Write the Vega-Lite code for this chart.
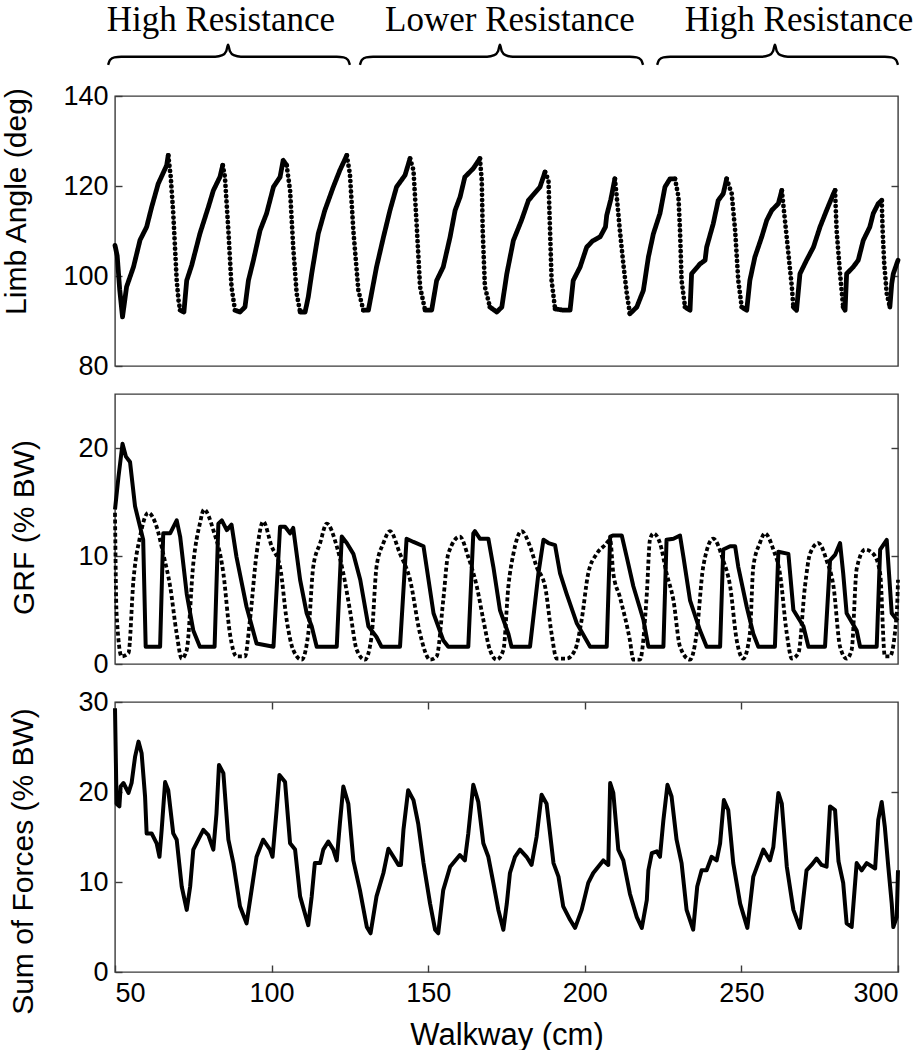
{
"$schema": "https://vega.github.io/schema/vega-lite/v6.json",
"background": "white",
"padding": {"left": 0, "top": 0, "right": 0, "bottom": 0},
"config": {
  "view": {"stroke": "#3a3a3a", "strokeWidth": 1.4},
  "font": "Liberation Sans",
  "axis": {"labelFont": "Liberation Sans", "titleFont": "Liberation Sans", "labelFontSize": 27, "titleFontSize": 30, "titleFontWeight": "normal", "labelColor": "black", "titleColor": "black", "tickColor": "#3a3a3a", "tickSize": -7, "tickWidth": 1.4, "domain": false, "grid": false, "labelPadding": 14}
},
"datasets": {
"braces": [
{"x":47.8,"level":0.19,"brace":1},{"x":48.4,"level":0.25,"brace":1},{"x":49.8,"level":0.283,"brace":1},{"x":52,"level":0.29,"brace":1},{"x":82,"level":0.29,"brace":1},{"x":84.3,"level":0.31,"brace":1},{"x":85.5,"level":0.36,"brace":1},{"x":86.1,"level":0.44,"brace":1},{"x":86.7,"level":0.36,"brace":1},{"x":87.9,"level":0.31,"brace":1},{"x":90.2,"level":0.29,"brace":1},{"x":120.8,"level":0.29,"brace":1},{"x":123,"level":0.283,"brace":1},{"x":124.4,"level":0.25,"brace":1},{"x":125,"level":0.19,"brace":1},
{"x":128.2,"level":0.19,"brace":2},{"x":128.8,"level":0.25,"brace":2},{"x":130.2,"level":0.283,"brace":2},{"x":132.4,"level":0.29,"brace":2},{"x":168.8,"level":0.29,"brace":2},{"x":171.1,"level":0.31,"brace":2},{"x":172.3,"level":0.36,"brace":2},{"x":172.9,"level":0.44,"brace":2},{"x":173.5,"level":0.36,"brace":2},{"x":174.7,"level":0.31,"brace":2},{"x":177,"level":0.29,"brace":2},{"x":214.4,"level":0.29,"brace":2},{"x":216.6,"level":0.283,"brace":2},{"x":218,"level":0.25,"brace":2},{"x":218.6,"level":0.19,"brace":2},
{"x":223.1,"level":0.19,"brace":3},{"x":223.7,"level":0.25,"brace":3},{"x":225.1,"level":0.283,"brace":3},{"x":227.3,"level":0.29,"brace":3},{"x":256.6,"level":0.29,"brace":3},{"x":258.9,"level":0.31,"brace":3},{"x":260.1,"level":0.36,"brace":3},{"x":260.7,"level":0.44,"brace":3},{"x":261.3,"level":0.36,"brace":3},{"x":262.5,"level":0.31,"brace":3},{"x":264.8,"level":0.29,"brace":3},{"x":295.8,"level":0.29,"brace":3},{"x":298,"level":0.283,"brace":3},{"x":299.4,"level":0.25,"brace":3},{"x":300,"level":0.19,"brace":3}
],
"labels": [
{"x":83.8,"level":0.615,"label":"High Resistance"},
{"x":176.1,"level":0.615,"label":"Lower Resistance"},
{"x":268.4,"level":0.615,"label":"High Resistance"}
],
"angle": [
{"x":50,"angle":106.8,"step":1,"phase":"stance"},{"x":50.7,"angle":104.5,"step":1,"phase":"stance"},{"x":51.5,"angle":97,"step":1,"phase":"stance"},{"x":52.4,"angle":90.9,"step":1,"phase":"stance"},{"x":53.7,"angle":97.6,"step":1,"phase":"stance"},{"x":55.9,"angle":102,"step":1,"phase":"stance"},{"x":58,"angle":108,"step":1,"phase":"stance"},{"x":60.1,"angle":110.9,"step":1,"phase":"stance"},{"x":61.7,"angle":115.3,"step":1,"phase":"stance"},{"x":63.8,"angle":120.5,"step":1,"phase":"stance"},{"x":66.5,"angle":124.6,"step":1,"phase":"stance"},{"x":67,"angle":126.8,"step":1,"phase":"stance"},
{"x":67,"angle":126.8,"step":2,"phase":"swing"},{"x":67.8,"angle":122,"step":2,"phase":"swing"},{"x":68.6,"angle":113.9,"step":2,"phase":"swing"},{"x":69.7,"angle":99,"step":2,"phase":"swing"},{"x":70.3,"angle":94.5,"step":2,"phase":"swing"},{"x":70.8,"angle":92.4,"step":2,"phase":"swing"},
{"x":70.8,"angle":92.4,"step":3,"phase":"stance"},{"x":72,"angle":92,"step":3,"phase":"stance"},{"x":72.9,"angle":99,"step":3,"phase":"stance"},{"x":74.5,"angle":102.4,"step":3,"phase":"stance"},{"x":77.1,"angle":109.4,"step":3,"phase":"stance"},{"x":79.8,"angle":115.3,"step":3,"phase":"stance"},{"x":81.4,"angle":119,"step":3,"phase":"stance"},{"x":83.5,"angle":122,"step":3,"phase":"stance"},{"x":84.4,"angle":124.6,"step":3,"phase":"stance"},
{"x":84.4,"angle":124.6,"step":4,"phase":"swing"},{"x":85.1,"angle":122,"step":4,"phase":"swing"},{"x":86.2,"angle":110.1,"step":4,"phase":"swing"},{"x":87.2,"angle":97.6,"step":4,"phase":"swing"},{"x":88.3,"angle":92.4,"step":4,"phase":"swing"},
{"x":88.3,"angle":92.4,"step":5,"phase":"stance"},{"x":89.9,"angle":92,"step":5,"phase":"stance"},{"x":91.5,"angle":93.1,"step":5,"phase":"stance"},{"x":92.6,"angle":99,"step":5,"phase":"stance"},{"x":94.2,"angle":103.5,"step":5,"phase":"stance"},{"x":96.3,"angle":110.1,"step":5,"phase":"stance"},{"x":98.4,"angle":113.9,"step":5,"phase":"stance"},{"x":100.6,"angle":119.8,"step":5,"phase":"stance"},{"x":102.7,"angle":122,"step":5,"phase":"stance"},{"x":103.7,"angle":125.7,"step":5,"phase":"stance"},{"x":104.8,"angle":124.6,"step":5,"phase":"stance"},
{"x":104.8,"angle":124.6,"step":6,"phase":"swing"},{"x":105.9,"angle":119,"step":6,"phase":"swing"},{"x":106.9,"angle":106.4,"step":6,"phase":"swing"},{"x":108,"angle":96.1,"step":6,"phase":"swing"},{"x":109.1,"angle":92,"step":6,"phase":"swing"},
{"x":109.1,"angle":92,"step":7,"phase":"stance"},{"x":110.7,"angle":92,"step":7,"phase":"stance"},{"x":111.7,"angle":95.3,"step":7,"phase":"stance"},{"x":112.8,"angle":100.5,"step":7,"phase":"stance"},{"x":114.9,"angle":109.4,"step":7,"phase":"stance"},{"x":117,"angle":114.6,"step":7,"phase":"stance"},{"x":119.7,"angle":119.8,"step":7,"phase":"stance"},{"x":121.8,"angle":123.5,"step":7,"phase":"stance"},{"x":124,"angle":126.8,"step":7,"phase":"stance"},
{"x":124,"angle":126.8,"step":8,"phase":"swing"},{"x":125,"angle":122.7,"step":8,"phase":"swing"},{"x":126.1,"angle":110.1,"step":8,"phase":"swing"},{"x":127.7,"angle":96.8,"step":8,"phase":"swing"},{"x":129.3,"angle":92.4,"step":8,"phase":"swing"},
{"x":129.3,"angle":92.4,"step":9,"phase":"stance"},{"x":130.9,"angle":92.4,"step":9,"phase":"stance"},{"x":131.9,"angle":96.1,"step":9,"phase":"stance"},{"x":133.5,"angle":102,"step":9,"phase":"stance"},{"x":135.7,"angle":108.6,"step":9,"phase":"stance"},{"x":137.8,"angle":114.6,"step":9,"phase":"stance"},{"x":139.9,"angle":119.8,"step":9,"phase":"stance"},{"x":142.6,"angle":122.4,"step":9,"phase":"stance"},{"x":144.2,"angle":126.1,"step":9,"phase":"stance"},
{"x":144.2,"angle":126.1,"step":10,"phase":"swing"},{"x":145.3,"angle":123.5,"step":10,"phase":"swing"},{"x":146.3,"angle":111.6,"step":10,"phase":"swing"},{"x":147.4,"angle":97.6,"step":10,"phase":"swing"},{"x":149,"angle":92.4,"step":10,"phase":"swing"},
{"x":149,"angle":92.4,"step":11,"phase":"stance"},{"x":151.1,"angle":92.4,"step":11,"phase":"stance"},{"x":152.7,"angle":99,"step":11,"phase":"stance"},{"x":154.8,"angle":102,"step":11,"phase":"stance"},{"x":157,"angle":108.7,"step":11,"phase":"stance"},{"x":158.6,"angle":114.6,"step":11,"phase":"stance"},{"x":160.2,"angle":117.6,"step":11,"phase":"stance"},{"x":161.7,"angle":122,"step":11,"phase":"stance"},{"x":164.4,"angle":123.9,"step":11,"phase":"stance"},{"x":166.5,"angle":126.1,"step":11,"phase":"stance"},
{"x":166.5,"angle":126.1,"step":12,"phase":"swing"},{"x":167.1,"angle":121.3,"step":12,"phase":"swing"},{"x":167.4,"angle":110.1,"step":12,"phase":"swing"},{"x":168.1,"angle":97.6,"step":12,"phase":"swing"},{"x":169.7,"angle":93.1,"step":12,"phase":"swing"},
{"x":169.7,"angle":93.1,"step":13,"phase":"stance"},{"x":171.9,"angle":92,"step":13,"phase":"stance"},{"x":173.5,"angle":93.1,"step":13,"phase":"stance"},{"x":175.1,"angle":100.5,"step":13,"phase":"stance"},{"x":177.2,"angle":107.9,"step":13,"phase":"stance"},{"x":179.8,"angle":112.4,"step":13,"phase":"stance"},{"x":182,"angle":116.8,"step":13,"phase":"stance"},{"x":185.7,"angle":119.8,"step":13,"phase":"stance"},{"x":187.3,"angle":123.1,"step":13,"phase":"stance"},
{"x":187.3,"angle":123.1,"step":14,"phase":"swing"},{"x":188.4,"angle":121.3,"step":14,"phase":"swing"},{"x":188.9,"angle":110.1,"step":14,"phase":"swing"},{"x":189.4,"angle":99,"step":14,"phase":"swing"},{"x":190.5,"angle":92.7,"step":14,"phase":"swing"},
{"x":190.5,"angle":92.7,"step":15,"phase":"stance"},{"x":193.1,"angle":92.4,"step":15,"phase":"stance"},{"x":195.3,"angle":92.4,"step":15,"phase":"stance"},{"x":196.3,"angle":99,"step":15,"phase":"stance"},{"x":198.5,"angle":102,"step":15,"phase":"stance"},{"x":200.6,"angle":106.4,"step":15,"phase":"stance"},{"x":202.5,"angle":107.8,"step":15,"phase":"stance"},{"x":204.9,"angle":108.7,"step":15,"phase":"stance"},{"x":206.6,"angle":110.9,"step":15,"phase":"stance"},{"x":207,"angle":113.5,"step":15,"phase":"stance"},{"x":208.3,"angle":117,"step":15,"phase":"stance"},{"x":209.6,"angle":121.6,"step":15,"phase":"stance"},
{"x":209.6,"angle":121.6,"step":16,"phase":"swing"},{"x":210.2,"angle":117.6,"step":16,"phase":"swing"},{"x":211.2,"angle":110.1,"step":16,"phase":"swing"},{"x":212.3,"angle":102.7,"step":16,"phase":"swing"},{"x":213.4,"angle":96.1,"step":16,"phase":"swing"},{"x":214.4,"angle":91.6,"step":16,"phase":"swing"},
{"x":214.4,"angle":91.6,"step":17,"phase":"stance"},{"x":216.6,"angle":93.1,"step":17,"phase":"stance"},{"x":218.7,"angle":96.8,"step":17,"phase":"stance"},{"x":220.3,"angle":104.2,"step":17,"phase":"stance"},{"x":221.9,"angle":109.4,"step":17,"phase":"stance"},{"x":224,"angle":113.9,"step":17,"phase":"stance"},{"x":225.6,"angle":119.8,"step":17,"phase":"stance"},{"x":227.2,"angle":121.6,"step":17,"phase":"stance"},{"x":228.8,"angle":121.6,"step":17,"phase":"stance"},
{"x":228.8,"angle":121.6,"step":18,"phase":"swing"},{"x":229.9,"angle":117.6,"step":18,"phase":"swing"},{"x":230.4,"angle":110.1,"step":18,"phase":"swing"},{"x":230.9,"angle":99,"step":18,"phase":"swing"},{"x":232,"angle":93.1,"step":18,"phase":"swing"},
{"x":232,"angle":93.1,"step":19,"phase":"stance"},{"x":233.6,"angle":92.4,"step":19,"phase":"stance"},{"x":234.1,"angle":100.5,"step":19,"phase":"stance"},{"x":236.8,"angle":102.7,"step":19,"phase":"stance"},{"x":238.4,"angle":103.5,"step":19,"phase":"stance"},{"x":238.9,"angle":106.4,"step":19,"phase":"stance"},{"x":241,"angle":111.6,"step":19,"phase":"stance"},{"x":242.6,"angle":116.8,"step":19,"phase":"stance"},{"x":244.2,"angle":118.3,"step":19,"phase":"stance"},{"x":245.3,"angle":121.6,"step":19,"phase":"stance"},
{"x":245.3,"angle":121.6,"step":20,"phase":"swing"},{"x":246.9,"angle":118.3,"step":20,"phase":"swing"},{"x":248,"angle":110.1,"step":20,"phase":"swing"},{"x":249,"angle":99,"step":20,"phase":"swing"},{"x":250.1,"angle":93.1,"step":20,"phase":"swing"},
{"x":250.1,"angle":93.1,"step":21,"phase":"stance"},{"x":251.7,"angle":92.4,"step":21,"phase":"stance"},{"x":252.7,"angle":99,"step":21,"phase":"stance"},{"x":254.3,"angle":104.2,"step":21,"phase":"stance"},{"x":256.5,"angle":108.7,"step":21,"phase":"stance"},{"x":258.1,"angle":112.4,"step":21,"phase":"stance"},{"x":259.7,"angle":114.6,"step":21,"phase":"stance"},{"x":261.8,"angle":116.1,"step":21,"phase":"stance"},{"x":262.9,"angle":119,"step":21,"phase":"stance"},
{"x":262.9,"angle":119,"step":22,"phase":"swing"},{"x":263.9,"angle":112.4,"step":22,"phase":"swing"},{"x":265,"angle":105,"step":22,"phase":"swing"},{"x":266.1,"angle":97.6,"step":22,"phase":"swing"},{"x":266.6,"angle":93.1,"step":22,"phase":"swing"},
{"x":266.6,"angle":93.1,"step":23,"phase":"stance"},{"x":267.6,"angle":92.4,"step":23,"phase":"stance"},{"x":268.7,"angle":100.5,"step":23,"phase":"stance"},{"x":270.8,"angle":103.5,"step":23,"phase":"stance"},{"x":273,"angle":106.4,"step":23,"phase":"stance"},{"x":275.1,"angle":110.9,"step":23,"phase":"stance"},{"x":277.2,"angle":114.6,"step":23,"phase":"stance"},{"x":279.4,"angle":118.3,"step":23,"phase":"stance"},{"x":279.9,"angle":119,"step":23,"phase":"stance"},
{"x":279.9,"angle":119,"step":24,"phase":"swing"},{"x":280.4,"angle":110.1,"step":24,"phase":"swing"},{"x":281.5,"angle":100.5,"step":24,"phase":"swing"},{"x":282.5,"angle":93.1,"step":24,"phase":"swing"},
{"x":282.5,"angle":93.1,"step":25,"phase":"stance"},{"x":283.1,"angle":92.4,"step":25,"phase":"stance"},{"x":283.6,"angle":100.5,"step":25,"phase":"stance"},{"x":285.7,"angle":102,"step":25,"phase":"stance"},{"x":287.3,"angle":103.5,"step":25,"phase":"stance"},{"x":288.9,"angle":107.9,"step":25,"phase":"stance"},{"x":291,"angle":110.9,"step":25,"phase":"stance"},{"x":292.1,"angle":113.9,"step":25,"phase":"stance"},{"x":293.7,"angle":116.1,"step":25,"phase":"stance"},{"x":294.8,"angle":116.8,"step":25,"phase":"stance"},
{"x":294.8,"angle":116.8,"step":26,"phase":"swing"},{"x":295.1,"angle":110,"step":26,"phase":"swing"},{"x":295.6,"angle":102.7,"step":26,"phase":"swing"},{"x":296.4,"angle":96.1,"step":26,"phase":"swing"},{"x":297.4,"angle":93.1,"step":26,"phase":"swing"},
{"x":297.4,"angle":93.1,"step":27,"phase":"stance"},{"x":298,"angle":98.3,"step":27,"phase":"stance"},{"x":298.5,"angle":100.5,"step":27,"phase":"stance"},{"x":300,"angle":103.5,"step":27,"phase":"stance"}
],
"grf": [
{"x":50,"grf":14.3,"limb":"Limb 1"},{"x":51.1,"grf":17.3,"limb":"Limb 1"},{"x":52.4,"grf":20.4,"limb":"Limb 1"},{"x":53.5,"grf":19.2,"limb":"Limb 1"},{"x":54.8,"grf":18.7,"limb":"Limb 1"},{"x":56.4,"grf":14.6,"limb":"Limb 1"},{"x":58,"grf":12.7,"limb":"Limb 1"},{"x":59,"grf":11.5,"limb":"Limb 1"},{"x":59.8,"grf":1.6,"limb":"Limb 1"},{"x":64.4,"grf":1.6,"limb":"Limb 1"},{"x":65.4,"grf":12.1,"limb":"Limb 1"},{"x":67.6,"grf":12.1,"limb":"Limb 1"},{"x":69.7,"grf":13.3,"limb":"Limb 1"},{"x":70.8,"grf":11.8,"limb":"Limb 1"},{"x":72.9,"grf":6.5,"limb":"Limb 1"},{"x":75,"grf":3.1,"limb":"Limb 1"},{"x":77.1,"grf":1.6,"limb":"Limb 1"},{"x":81.8,"grf":1.6,"limb":"Limb 1"},{"x":83,"grf":13,"limb":"Limb 1"},{"x":84.1,"grf":13.3,"limb":"Limb 1"},{"x":85.7,"grf":12.4,"limb":"Limb 1"},{"x":87.2,"grf":12.9,"limb":"Limb 1"},{"x":88.8,"grf":9.9,"limb":"Limb 1"},{"x":92,"grf":5.3,"limb":"Limb 1"},{"x":95.2,"grf":1.9,"limb":"Limb 1"},{"x":100.6,"grf":1.6,"limb":"Limb 1"},{"x":102.7,"grf":12.7,"limb":"Limb 1"},{"x":104.3,"grf":12.7,"limb":"Limb 1"},{"x":105.9,"grf":12.1,"limb":"Limb 1"},{"x":106.9,"grf":12.6,"limb":"Limb 1"},{"x":109.1,"grf":7.8,"limb":"Limb 1"},{"x":111.2,"grf":4.7,"limb":"Limb 1"},{"x":112.8,"grf":3.5,"limb":"Limb 1"},{"x":114.4,"grf":1.6,"limb":"Limb 1"},{"x":120.8,"grf":1.6,"limb":"Limb 1"},{"x":122.4,"grf":11.8,"limb":"Limb 1"},{"x":124,"grf":11.2,"limb":"Limb 1"},{"x":126.1,"grf":10.2,"limb":"Limb 1"},{"x":128.3,"grf":7.8,"limb":"Limb 1"},{"x":130.9,"grf":3.5,"limb":"Limb 1"},{"x":133.5,"grf":2.5,"limb":"Limb 1"},{"x":135.1,"grf":1.6,"limb":"Limb 1"},{"x":141,"grf":1.6,"limb":"Limb 1"},{"x":143.1,"grf":11.6,"limb":"Limb 1"},{"x":145.3,"grf":11.3,"limb":"Limb 1"},{"x":148.5,"grf":10.9,"limb":"Limb 1"},{"x":151.7,"grf":4.7,"limb":"Limb 1"},{"x":154.8,"grf":2.2,"limb":"Limb 1"},{"x":156.4,"grf":1.6,"limb":"Limb 1"},{"x":162.8,"grf":1.6,"limb":"Limb 1"},{"x":164.4,"grf":12.1,"limb":"Limb 1"},{"x":164.9,"grf":12.3,"limb":"Limb 1"},{"x":166.5,"grf":11.6,"limb":"Limb 1"},{"x":169.2,"grf":11.6,"limb":"Limb 1"},{"x":170.8,"grf":9,"limb":"Limb 1"},{"x":172.9,"grf":5,"limb":"Limb 1"},{"x":175.6,"grf":2.8,"limb":"Limb 1"},{"x":176.6,"grf":1.6,"limb":"Limb 1"},{"x":182.5,"grf":1.6,"limb":"Limb 1"},{"x":185.2,"grf":8.4,"limb":"Limb 1"},{"x":186.8,"grf":11.5,"limb":"Limb 1"},{"x":188.4,"grf":11.2,"limb":"Limb 1"},{"x":190.5,"grf":11,"limb":"Limb 1"},{"x":192.1,"grf":8.4,"limb":"Limb 1"},{"x":194.2,"grf":6.5,"limb":"Limb 1"},{"x":197.4,"grf":3.8,"limb":"Limb 1"},{"x":201.7,"grf":1.6,"limb":"Limb 1"},{"x":207,"grf":1.6,"limb":"Limb 1"},{"x":208.1,"grf":11.8,"limb":"Limb 1"},{"x":209.1,"grf":11.9,"limb":"Limb 1"},{"x":211.8,"grf":11.9,"limb":"Limb 1"},{"x":213.4,"grf":9.9,"limb":"Limb 1"},{"x":215.5,"grf":7.2,"limb":"Limb 1"},{"x":218.7,"grf":4.1,"limb":"Limb 1"},{"x":220.3,"grf":1.6,"limb":"Limb 1"},{"x":225.1,"grf":1.6,"limb":"Limb 1"},{"x":226.1,"grf":11.5,"limb":"Limb 1"},{"x":228.3,"grf":11.6,"limb":"Limb 1"},{"x":230.4,"grf":11.9,"limb":"Limb 1"},{"x":231.5,"grf":9.9,"limb":"Limb 1"},{"x":233.6,"grf":5.9,"limb":"Limb 1"},{"x":236.8,"grf":3.1,"limb":"Limb 1"},{"x":238.9,"grf":1.6,"limb":"Limb 1"},{"x":243.2,"grf":1.6,"limb":"Limb 1"},{"x":244.2,"grf":10.6,"limb":"Limb 1"},{"x":246.4,"grf":10.9,"limb":"Limb 1"},{"x":248,"grf":10.9,"limb":"Limb 1"},{"x":249,"grf":9,"limb":"Limb 1"},{"x":251.7,"grf":5.3,"limb":"Limb 1"},{"x":253.8,"grf":2.8,"limb":"Limb 1"},{"x":255.4,"grf":1.6,"limb":"Limb 1"},{"x":260.7,"grf":1.6,"limb":"Limb 1"},{"x":261.8,"grf":10.4,"limb":"Limb 1"},{"x":265,"grf":10.2,"limb":"Limb 1"},{"x":266.6,"grf":5,"limb":"Limb 1"},{"x":269.8,"grf":3.5,"limb":"Limb 1"},{"x":271.4,"grf":1.6,"limb":"Limb 1"},{"x":276.7,"grf":1.6,"limb":"Limb 1"},{"x":278.3,"grf":9.6,"limb":"Limb 1"},{"x":279.9,"grf":10.1,"limb":"Limb 1"},{"x":281.5,"grf":11.2,"limb":"Limb 1"},{"x":282.5,"grf":8.4,"limb":"Limb 1"},{"x":283.6,"grf":4.7,"limb":"Limb 1"},{"x":286.8,"grf":3.1,"limb":"Limb 1"},{"x":287.9,"grf":1.6,"limb":"Limb 1"},{"x":293.2,"grf":1.6,"limb":"Limb 1"},{"x":294.3,"grf":10.6,"limb":"Limb 1"},{"x":296.4,"grf":11.5,"limb":"Limb 1"},{"x":298,"grf":4.7,"limb":"Limb 1"},{"x":299.6,"grf":4.1,"limb":"Limb 1"},{"x":300,"grf":4,"limb":"Limb 1"},
{"x":50,"grf":14,"limb":"Limb 2"},{"x":50.5,"grf":4.7,"limb":"Limb 2"},{"x":52.1,"grf":0.7,"limb":"Limb 2"},{"x":54.3,"grf":1,"limb":"Limb 2"},{"x":55.9,"grf":7.8,"limb":"Limb 2"},{"x":58,"grf":11.8,"limb":"Limb 2"},{"x":60.6,"grf":14,"limb":"Limb 2"},{"x":63.3,"grf":12.7,"limb":"Limb 2"},{"x":65.4,"grf":10.2,"limb":"Limb 2"},{"x":67.6,"grf":7.2,"limb":"Limb 2"},{"x":69.7,"grf":2.8,"limb":"Limb 2"},{"x":71.3,"grf":0.5,"limb":"Limb 2"},{"x":72.9,"grf":1.3,"limb":"Limb 2"},{"x":75,"grf":9.3,"limb":"Limb 2"},{"x":77.1,"grf":13,"limb":"Limb 2"},{"x":78.4,"grf":14.3,"limb":"Limb 2"},{"x":81.4,"grf":12.4,"limb":"Limb 2"},{"x":84.6,"grf":8.4,"limb":"Limb 2"},{"x":86.7,"grf":2.8,"limb":"Limb 2"},{"x":88.8,"grf":0.7,"limb":"Limb 2"},{"x":91.5,"grf":0.7,"limb":"Limb 2"},{"x":93.1,"grf":4.1,"limb":"Limb 2"},{"x":95.2,"grf":10.2,"limb":"Limb 2"},{"x":97.3,"grf":13.2,"limb":"Limb 2"},{"x":100,"grf":10.9,"limb":"Limb 2"},{"x":102.7,"grf":9,"limb":"Limb 2"},{"x":104.8,"grf":4.1,"limb":"Limb 2"},{"x":106.9,"grf":1.3,"limb":"Limb 2"},{"x":109.6,"grf":0.4,"limb":"Limb 2"},{"x":111.7,"grf":2.8,"limb":"Limb 2"},{"x":113.3,"grf":9,"limb":"Limb 2"},{"x":115.5,"grf":11.2,"limb":"Limb 2"},{"x":117.6,"grf":13,"limb":"Limb 2"},{"x":120.8,"grf":10.9,"limb":"Limb 2"},{"x":122.9,"grf":8.4,"limb":"Limb 2"},{"x":125,"grf":5,"limb":"Limb 2"},{"x":127.2,"grf":1.3,"limb":"Limb 2"},{"x":129.8,"grf":0.4,"limb":"Limb 2"},{"x":131.9,"grf":2.5,"limb":"Limb 2"},{"x":133.5,"grf":9,"limb":"Limb 2"},{"x":135.7,"grf":11.2,"limb":"Limb 2"},{"x":137.8,"grf":12.3,"limb":"Limb 2"},{"x":141,"grf":10.2,"limb":"Limb 2"},{"x":144.2,"grf":7.8,"limb":"Limb 2"},{"x":147.4,"grf":2.8,"limb":"Limb 2"},{"x":150.6,"grf":0.4,"limb":"Limb 2"},{"x":152.7,"grf":0.7,"limb":"Limb 2"},{"x":154.8,"grf":5.9,"limb":"Limb 2"},{"x":156.4,"grf":10.2,"limb":"Limb 2"},{"x":160.1,"grf":11.8,"limb":"Limb 2"},{"x":162.8,"grf":9.9,"limb":"Limb 2"},{"x":165.5,"grf":7.2,"limb":"Limb 2"},{"x":167.6,"grf":4.1,"limb":"Limb 2"},{"x":169.7,"grf":1.3,"limb":"Limb 2"},{"x":171.9,"grf":0.4,"limb":"Limb 2"},{"x":174,"grf":1.3,"limb":"Limb 2"},{"x":175.6,"grf":7.2,"limb":"Limb 2"},{"x":177.2,"grf":10.2,"limb":"Limb 2"},{"x":179.8,"grf":12.3,"limb":"Limb 2"},{"x":182.5,"grf":10.9,"limb":"Limb 2"},{"x":184.6,"grf":9,"limb":"Limb 2"},{"x":187.3,"grf":7.2,"limb":"Limb 2"},{"x":189.4,"grf":2.8,"limb":"Limb 2"},{"x":191,"grf":0.5,"limb":"Limb 2"},{"x":194.2,"grf":0.5,"limb":"Limb 2"},{"x":196.9,"grf":1.3,"limb":"Limb 2"},{"x":199,"grf":4.1,"limb":"Limb 2"},{"x":201.1,"grf":8.4,"limb":"Limb 2"},{"x":203.8,"grf":10.2,"limb":"Limb 2"},{"x":206.4,"grf":11,"limb":"Limb 2"},{"x":208.1,"grf":11.5,"limb":"Limb 2"},{"x":209.1,"grf":8.4,"limb":"Limb 2"},{"x":211.2,"grf":6.2,"limb":"Limb 2"},{"x":214.4,"grf":2.2,"limb":"Limb 2"},{"x":215.5,"grf":0.4,"limb":"Limb 2"},{"x":217.6,"grf":0.4,"limb":"Limb 2"},{"x":219.8,"grf":6.5,"limb":"Limb 2"},{"x":220.8,"grf":11.5,"limb":"Limb 2"},{"x":221.9,"grf":12.1,"limb":"Limb 2"},{"x":224,"grf":11.2,"limb":"Limb 2"},{"x":226.1,"grf":8.4,"limb":"Limb 2"},{"x":228.3,"grf":5.9,"limb":"Limb 2"},{"x":230.4,"grf":1.6,"limb":"Limb 2"},{"x":233.6,"grf":0.4,"limb":"Limb 2"},{"x":235.7,"grf":2.8,"limb":"Limb 2"},{"x":237.8,"grf":9,"limb":"Limb 2"},{"x":241,"grf":11.6,"limb":"Limb 2"},{"x":244.2,"grf":9.6,"limb":"Limb 2"},{"x":246.4,"grf":7.2,"limb":"Limb 2"},{"x":248.5,"grf":2.2,"limb":"Limb 2"},{"x":250.6,"grf":0.5,"limb":"Limb 2"},{"x":252.7,"grf":2.8,"limb":"Limb 2"},{"x":253.8,"grf":9,"limb":"Limb 2"},{"x":255.9,"grf":11.2,"limb":"Limb 2"},{"x":257.5,"grf":12.1,"limb":"Limb 2"},{"x":260.2,"grf":10.6,"limb":"Limb 2"},{"x":262.3,"grf":8.4,"limb":"Limb 2"},{"x":264.5,"grf":2.8,"limb":"Limb 2"},{"x":266.1,"grf":0.5,"limb":"Limb 2"},{"x":268.2,"grf":1,"limb":"Limb 2"},{"x":270.3,"grf":7.2,"limb":"Limb 2"},{"x":271.9,"grf":10.2,"limb":"Limb 2"},{"x":274.6,"grf":11.2,"limb":"Limb 2"},{"x":277.2,"grf":9.6,"limb":"Limb 2"},{"x":279.4,"grf":7.2,"limb":"Limb 2"},{"x":281.5,"grf":1.6,"limb":"Limb 2"},{"x":283.6,"grf":0.5,"limb":"Limb 2"},{"x":285.2,"grf":1.3,"limb":"Limb 2"},{"x":286.8,"grf":8.8,"limb":"Limb 2"},{"x":289.5,"grf":10.6,"limb":"Limb 2"},{"x":292.1,"grf":10.2,"limb":"Limb 2"},{"x":294.3,"grf":8.4,"limb":"Limb 2"},{"x":295.8,"grf":0.7,"limb":"Limb 2"},{"x":297.4,"grf":0.7,"limb":"Limb 2"},{"x":299.6,"grf":4.7,"limb":"Limb 2"},{"x":300,"grf":7.8,"limb":"Limb 2"}
],
"sum": [
{"x":50,"sum":29.3},{"x":50.5,"sum":18.7},{"x":51.4,"sum":18.4},{"x":51.8,"sum":20.6},{"x":52.7,"sum":21},{"x":54.3,"sum":19.9},{"x":55.3,"sum":21},{"x":56.4,"sum":23.9},{"x":57.5,"sum":25.6},{"x":58.5,"sum":24.3},{"x":59.6,"sum":19.5},{"x":60.1,"sum":15.4},{"x":61.7,"sum":15.4},{"x":63.3,"sum":14.3},{"x":64.2,"sum":12.8},{"x":64.9,"sum":15.8},{"x":66,"sum":21.1},{"x":67,"sum":20.2},{"x":68.6,"sum":15.4},{"x":69.7,"sum":14.7},{"x":71.3,"sum":9.5},{"x":72.9,"sum":6.9},{"x":74,"sum":9.5},{"x":75,"sum":13.6},{"x":76.6,"sum":14.7},{"x":78.2,"sum":15.8},{"x":79.8,"sum":15.2},{"x":81.4,"sum":13.6},{"x":82.4,"sum":17.6},{"x":83.2,"sum":23},{"x":84.6,"sum":22.1},{"x":86.2,"sum":14.7},{"x":87.8,"sum":12.1},{"x":89.9,"sum":7.3},{"x":92,"sum":5.4},{"x":93.6,"sum":9.1},{"x":95.2,"sum":12.8},{"x":97.3,"sum":14.7},{"x":99.5,"sum":13.6},{"x":100.3,"sum":12.8},{"x":101.6,"sum":18},{"x":102.5,"sum":21.9},{"x":104.3,"sum":21.1},{"x":105.9,"sum":14.3},{"x":107.5,"sum":13.6},{"x":109.1,"sum":8.4},{"x":111.7,"sum":5.2},{"x":112.8,"sum":8.4},{"x":113.8,"sum":12.1},{"x":115.5,"sum":12.1},{"x":116.5,"sum":13.6},{"x":118.1,"sum":14.5},{"x":119.7,"sum":13.6},{"x":120.8,"sum":12.4},{"x":121.8,"sum":16.5},{"x":122.9,"sum":20.6},{"x":124.5,"sum":18.7},{"x":126.1,"sum":12.4},{"x":128.2,"sum":9.1},{"x":130.4,"sum":5},{"x":131.6,"sum":4.3},{"x":133.5,"sum":8.4},{"x":135.7,"sum":11},{"x":137.3,"sum":13.7},{"x":138.9,"sum":12.8},{"x":140.5,"sum":11.9},{"x":141.3,"sum":11.9},{"x":142.1,"sum":15.8},{"x":143.6,"sum":20.2},{"x":145.3,"sum":19.1},{"x":146.8,"sum":16.5},{"x":148.5,"sum":12.1},{"x":150.6,"sum":7.6},{"x":152.2,"sum":4.7},{"x":153.2,"sum":4.3},{"x":154.8,"sum":9.1},{"x":157,"sum":11.7},{"x":160.1,"sum":13},{"x":161.7,"sum":12.4},{"x":162.8,"sum":15.4},{"x":164.4,"sum":20.8},{"x":166,"sum":18.9},{"x":167.6,"sum":14.3},{"x":169.2,"sum":12.8},{"x":170.8,"sum":9.9},{"x":172.4,"sum":6.9},{"x":174,"sum":4.7},{"x":175.1,"sum":7.6},{"x":176.1,"sum":11},{"x":177.7,"sum":12.8},{"x":179.3,"sum":13.6},{"x":181.4,"sum":12.8},{"x":183,"sum":11.9},{"x":184.6,"sum":15},{"x":186.2,"sum":19.7},{"x":187.8,"sum":18.7},{"x":190,"sum":12.1},{"x":191.6,"sum":10.6},{"x":193.1,"sum":7.3},{"x":195.3,"sum":5.8},{"x":196.9,"sum":4.9},{"x":199,"sum":6.9},{"x":201.1,"sum":9.9},{"x":202.7,"sum":11},{"x":204.3,"sum":11.7},{"x":205.9,"sum":12.4},{"x":207.5,"sum":11.9},{"x":208.1,"sum":21},{"x":209.1,"sum":19.9},{"x":210.7,"sum":13.6},{"x":212.3,"sum":12.4},{"x":214.4,"sum":8.7},{"x":216.6,"sum":6.1},{"x":218.2,"sum":4.9},{"x":219.8,"sum":8},{"x":220.3,"sum":11.3},{"x":221.4,"sum":13.2},{"x":223,"sum":13.4},{"x":224,"sum":12.8},{"x":225.1,"sum":16.9},{"x":226.4,"sum":20.8},{"x":227.7,"sum":19.5},{"x":229.3,"sum":14.7},{"x":230.9,"sum":12.1},{"x":232.5,"sum":6.9},{"x":234.6,"sum":4.7},{"x":235.9,"sum":9.5},{"x":237.3,"sum":11.3},{"x":238.9,"sum":11.3},{"x":240.5,"sum":12.8},{"x":242.1,"sum":12.4},{"x":243.2,"sum":14.3},{"x":244.4,"sum":19.1},{"x":245.8,"sum":18},{"x":247.4,"sum":12.1},{"x":249.6,"sum":7.6},{"x":251.9,"sum":4.9},{"x":253.8,"sum":10.6},{"x":255.4,"sum":12.1},{"x":257,"sum":13.6},{"x":259.1,"sum":12.4},{"x":260.2,"sum":13.9},{"x":261.8,"sum":19.9},{"x":262.9,"sum":18.7},{"x":264.5,"sum":11.7},{"x":266.6,"sum":6.9},{"x":268.7,"sum":4.9},{"x":270.8,"sum":11.3},{"x":272.4,"sum":11.9},{"x":274,"sum":12.6},{"x":275.6,"sum":11.9},{"x":277.2,"sum":11.7},{"x":278.3,"sum":18.4},{"x":279.9,"sum":18},{"x":281,"sum":12.3},{"x":282.5,"sum":9.9},{"x":283.6,"sum":5.4},{"x":285.2,"sum":5},{"x":286.8,"sum":12.1},{"x":288.4,"sum":11.3},{"x":290,"sum":12.1},{"x":292.7,"sum":11.5},{"x":293.7,"sum":16.9},{"x":294.8,"sum":18.9},{"x":295.8,"sum":16.1},{"x":296.9,"sum":11.7},{"x":298,"sum":7.6},{"x":298.5,"sum":5},{"x":299.6,"sum":6.1},{"x":300,"sum":11.3}
]
},
"bounds": "flush",
"spacing": 16,
"vconcat": [
{
  "width": 783, "height": 80,
  "view": {"stroke": null},
  "layer": [
    {"data": {"name": "braces"},
     "mark": {"type": "line", "interpolate": "monotone", "color": "black", "strokeWidth": 2.4},
     "encoding": {
       "x": {"field": "x", "type": "quantitative", "scale": {"domain": [50, 300], "nice": false, "zero": false}, "axis": null},
       "y": {"field": "level", "type": "quantitative", "scale": {"domain": [0, 1], "nice": false}, "axis": null},
       "detail": {"field": "brace", "type": "nominal"}}},
    {"data": {"name": "labels"},
     "mark": {"type": "text", "font": "Liberation Serif", "fontSize": 35, "baseline": "alphabetic", "align": "center", "color": "black"},
     "encoding": {
       "x": {"field": "x", "type": "quantitative"},
       "y": {"field": "level", "type": "quantitative"},
       "text": {"field": "label", "type": "nominal"}}}
  ]
},
{
  "bounds": "flush",
  "spacing": 28,
  "vconcat": [
  {
    "width": 783, "height": 270,
    "data": {"name": "angle"},
    "layer": [
      {"mark": {"type": "line", "color": "black", "strokeWidth": 4.8, "strokeCap": "round", "strokeJoin": "round"},
       "encoding": {
         "x": {"field": "x", "type": "quantitative", "scale": {"domain": [50, 300], "nice": false, "zero": false}, "axis": null},
         "y": {"field": "angle", "type": "quantitative", "scale": {"domain": [80, 140], "nice": false, "zero": false},
               "axis": {"values": [80, 100, 120, 140], "title": "Limb Angle (deg)", "titleX": -84, "titleY": 105}},
         "detail": {"field": "step", "type": "nominal"},
         "strokeDash": {"field": "phase", "type": "nominal", "scale": {"domain": ["stance", "swing"], "range": [[1, 0], [0, 5.2]]}, "legend": null}}},
      {"mark": {"type": "point", "opacity": 0},
       "encoding": {
         "x": {"field": "x", "type": "quantitative"},
         "y": {"field": "angle", "type": "quantitative", "axis": {"orient": "right", "labels": false, "title": null, "values": [100, 120]}}}}
    ],
    "resolve": {"axis": {"y": "independent"}}
  },
  {
    "bounds": "flush",
    "spacing": 38,
    "vconcat": [
    {
      "width": 783, "height": 270,
      "data": {"name": "grf"},
      "layer": [
        {"transform": [{"filter": "datum.limb === 'Limb 2'"}],
         "mark": {"type": "line", "color": "black", "strokeWidth": 3.8, "strokeDash": [4, 2.6], "interpolate": "monotone"},
         "encoding": {
           "x": {"field": "x", "type": "quantitative", "scale": {"domain": [50, 300], "nice": false, "zero": false}, "axis": null},
           "y": {"field": "grf", "type": "quantitative", "scale": {"domain": [0, 25], "nice": false},
                 "axis": {"values": [0, 10, 20], "title": "GRF (% BW)", "titleX": -76, "titleY": 133}}}},
        {"transform": [{"filter": "datum.limb === 'Limb 1'"}],
         "mark": {"type": "line", "color": "black", "strokeWidth": 4, "strokeJoin": "round"},
         "encoding": {
           "x": {"field": "x", "type": "quantitative"},
           "y": {"field": "grf", "type": "quantitative", "axis": null}}},
        {"mark": {"type": "point", "opacity": 0},
         "encoding": {
           "x": {"field": "x", "type": "quantitative"},
           "y": {"field": "grf", "type": "quantitative", "axis": {"orient": "right", "labels": false, "title": null, "values": [10, 20]}}}}
      ],
      "resolve": {"axis": {"y": "independent"}}
    },
    {
      "width": 783, "height": 270,
      "data": {"name": "sum"},
      "layer": [
        {"mark": {"type": "line", "color": "black", "strokeWidth": 4, "strokeJoin": "round"},
         "encoding": {
           "x": {"field": "x", "type": "quantitative", "scale": {"domain": [50, 300], "nice": false, "zero": false},
                 "axis": {"values": [50, 100, 150, 200, 250, 300], "title": "Walkway (cm)", "labelPadding": 15, "titlePadding": 14, "titleFontSize": 31}},
           "y": {"field": "sum", "type": "quantitative", "scale": {"domain": [0, 30], "nice": false},
                 "axis": {"values": [0, 10, 20, 30], "title": "Sum of Forces (% BW)", "titleX": -77, "titleY": 159}}}},
        {"mark": {"type": "point", "opacity": 0},
         "encoding": {
           "x": {"field": "x", "type": "quantitative", "axis": {"orient": "top", "labels": false, "title": null, "values": [100, 150, 200, 250]}},
           "y": {"field": "sum", "type": "quantitative", "axis": {"orient": "right", "labels": false, "title": null, "values": [10, 20]}}}}
      ],
      "resolve": {"axis": {"x": "independent", "y": "independent"}}
    }
    ]
  }
  ]
}
]
}
